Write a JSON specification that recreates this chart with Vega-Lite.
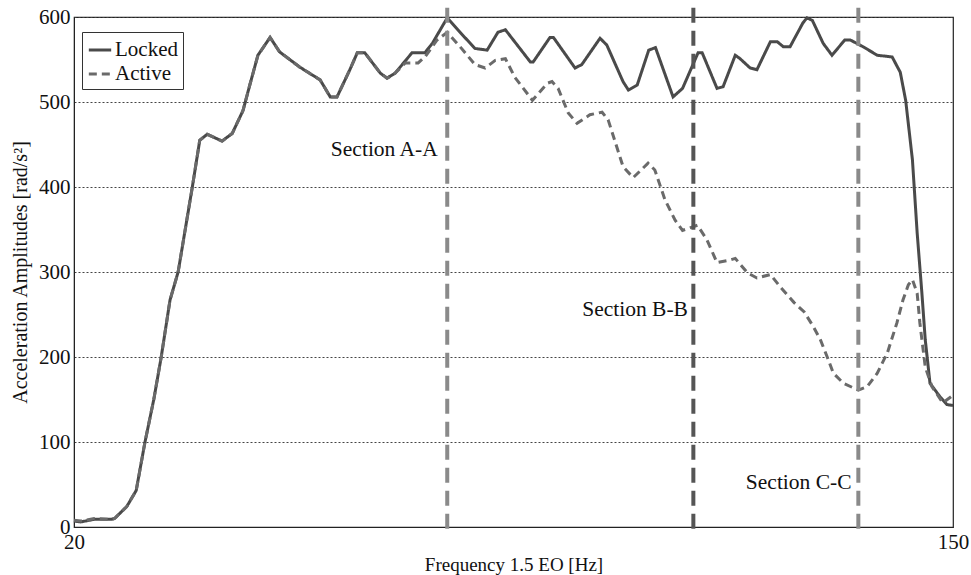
{
  "$schema": "https://vega.github.io/schema/vega-lite/v6.json",
  "width": 879,
  "height": 510,
  "autosize": "none",
  "padding": {"left": 74, "top": 17, "right": 18, "bottom": 48},
  "background": "white",
  "config": {
    "view": {"stroke": "#222", "strokeWidth": 1.2},
    "font": "Liberation Serif",
    "axis": {"labelFont": "Liberation Serif", "titleFont": "Liberation Serif", "labelColor": "#111", "titleColor": "#111", "titleFontWeight": "normal", "domainColor": "#222"},
    "legend": {"orient": "none", "legendX": 8, "legendY": 15, "title": null, "symbolType": "stroke", "symbolSize": 500, "symbolStrokeWidth": 3, "labelFont": "Liberation Serif", "labelFontSize": 21, "labelColor": "#111", "strokeColor": "#333", "fillColor": "white", "padding": 5, "rowPadding": 1, "labelOffset": 2}
  },
  "datasets": {
    "curves": [
      {"f":20,"v":7,"s":"Locked"},{"f":21,"v":6,"s":"Locked"},{"f":23,"v":9,"s":"Locked"},{"f":25.5,"v":9,"s":"Locked"},{"f":26,"v":10,"s":"Locked"},{"f":27.8,"v":24,"s":"Locked"},{"f":29.2,"v":43,"s":"Locked"},{"f":30.5,"v":100,"s":"Locked"},{"f":31.8,"v":150,"s":"Locked"},{"f":32.9,"v":200,"s":"Locked"},{"f":34.2,"v":267,"s":"Locked"},{"f":35.4,"v":300,"s":"Locked"},{"f":37.5,"v":400,"s":"Locked"},{"f":38.6,"v":455,"s":"Locked"},{"f":39.7,"v":462,"s":"Locked"},{"f":41.9,"v":454,"s":"Locked"},{"f":43.4,"v":463,"s":"Locked"},{"f":45,"v":490,"s":"Locked"},{"f":46,"v":520,"s":"Locked"},{"f":47.2,"v":555,"s":"Locked"},{"f":49,"v":576,"s":"Locked"},{"f":50.4,"v":559,"s":"Locked"},{"f":53.4,"v":541,"s":"Locked"},{"f":56.4,"v":526,"s":"Locked"},{"f":57.9,"v":506,"s":"Locked"},{"f":58.9,"v":506,"s":"Locked"},{"f":60.8,"v":538,"s":"Locked"},{"f":61.9,"v":558,"s":"Locked"},{"f":63,"v":558,"s":"Locked"},{"f":65.3,"v":534,"s":"Locked"},{"f":66.3,"v":528,"s":"Locked"},{"f":67.5,"v":534,"s":"Locked"},{"f":70,"v":558,"s":"Locked"},{"f":71.9,"v":558,"s":"Locked"},{"f":73,"v":569,"s":"Locked"},{"f":75.2,"v":599,"s":"Locked"},{"f":77.1,"v":582,"s":"Locked"},{"f":79.3,"v":563,"s":"Locked"},{"f":81.1,"v":561,"s":"Locked"},{"f":82.7,"v":582,"s":"Locked"},{"f":83.8,"v":585,"s":"Locked"},{"f":87.5,"v":547,"s":"Locked"},{"f":87.9,"v":547,"s":"Locked"},{"f":90.4,"v":576,"s":"Locked"},{"f":90.9,"v":576,"s":"Locked"},{"f":94.1,"v":540,"s":"Locked"},{"f":95.1,"v":544,"s":"Locked"},{"f":97.8,"v":575,"s":"Locked"},{"f":98.8,"v":567,"s":"Locked"},{"f":101.2,"v":524,"s":"Locked"},{"f":102,"v":514,"s":"Locked"},{"f":103.3,"v":520,"s":"Locked"},{"f":105,"v":561,"s":"Locked"},{"f":106,"v":564,"s":"Locked"},{"f":108.6,"v":506,"s":"Locked"},{"f":110,"v":516,"s":"Locked"},{"f":112.3,"v":558,"s":"Locked"},{"f":112.9,"v":558,"s":"Locked"},{"f":115.1,"v":516,"s":"Locked"},{"f":116,"v":518,"s":"Locked"},{"f":117.8,"v":555,"s":"Locked"},{"f":118.5,"v":551,"s":"Locked"},{"f":120,"v":540,"s":"Locked"},{"f":121,"v":538,"s":"Locked"},{"f":123,"v":571,"s":"Locked"},{"f":124,"v":571,"s":"Locked"},{"f":124.9,"v":565,"s":"Locked"},{"f":125.9,"v":565,"s":"Locked"},{"f":127.8,"v":593,"s":"Locked"},{"f":128.4,"v":599,"s":"Locked"},{"f":129.2,"v":596,"s":"Locked"},{"f":130.8,"v":569,"s":"Locked"},{"f":132.1,"v":555,"s":"Locked"},{"f":134,"v":573,"s":"Locked"},{"f":134.8,"v":573,"s":"Locked"},{"f":136.7,"v":565,"s":"Locked"},{"f":138.8,"v":555,"s":"Locked"},{"f":141,"v":553,"s":"Locked"},{"f":142.2,"v":535,"s":"Locked"},{"f":143,"v":502,"s":"Locked"},{"f":144,"v":432,"s":"Locked"},{"f":144.7,"v":346,"s":"Locked"},{"f":145.4,"v":275,"s":"Locked"},{"f":145.9,"v":220,"s":"Locked"},{"f":146.6,"v":169,"s":"Locked"},{"f":148.1,"v":153,"s":"Locked"},{"f":149.1,"v":144,"s":"Locked"},{"f":150,"v":143,"s":"Locked"},
      {"f":20,"v":8,"s":"Active"},{"f":21,"v":7,"s":"Active"},{"f":23,"v":10,"s":"Active"},{"f":25.5,"v":9,"s":"Active"},{"f":26,"v":10,"s":"Active"},{"f":27.8,"v":24,"s":"Active"},{"f":29.2,"v":43,"s":"Active"},{"f":30.5,"v":100,"s":"Active"},{"f":31.8,"v":150,"s":"Active"},{"f":32.9,"v":200,"s":"Active"},{"f":34.2,"v":267,"s":"Active"},{"f":35.4,"v":300,"s":"Active"},{"f":37.5,"v":400,"s":"Active"},{"f":38.6,"v":455,"s":"Active"},{"f":39.7,"v":462,"s":"Active"},{"f":41.9,"v":454,"s":"Active"},{"f":43.4,"v":463,"s":"Active"},{"f":45,"v":490,"s":"Active"},{"f":46,"v":520,"s":"Active"},{"f":47.2,"v":555,"s":"Active"},{"f":49,"v":576,"s":"Active"},{"f":50.4,"v":559,"s":"Active"},{"f":53.4,"v":541,"s":"Active"},{"f":56.4,"v":526,"s":"Active"},{"f":57.9,"v":506,"s":"Active"},{"f":58.9,"v":506,"s":"Active"},{"f":60.8,"v":538,"s":"Active"},{"f":61.9,"v":558,"s":"Active"},{"f":63,"v":558,"s":"Active"},{"f":65.3,"v":534,"s":"Active"},{"f":66.3,"v":528,"s":"Active"},{"f":67.5,"v":534,"s":"Active"},{"f":69,"v":546,"s":"Active"},{"f":70.9,"v":546,"s":"Active"},{"f":71.9,"v":553,"s":"Active"},{"f":73.7,"v":573,"s":"Active"},{"f":75.2,"v":582,"s":"Active"},{"f":77.1,"v":565,"s":"Active"},{"f":79.3,"v":544,"s":"Active"},{"f":80.8,"v":540,"s":"Active"},{"f":82.3,"v":549,"s":"Active"},{"f":83.8,"v":551,"s":"Active"},{"f":85.2,"v":529,"s":"Active"},{"f":87.8,"v":502,"s":"Active"},{"f":90,"v":522,"s":"Active"},{"f":90.7,"v":524,"s":"Active"},{"f":91.6,"v":516,"s":"Active"},{"f":93.1,"v":487,"s":"Active"},{"f":94.4,"v":475,"s":"Active"},{"f":96.3,"v":485,"s":"Active"},{"f":98.1,"v":488,"s":"Active"},{"f":99,"v":479,"s":"Active"},{"f":101.2,"v":424,"s":"Active"},{"f":102.7,"v":411,"s":"Active"},{"f":104.9,"v":428,"s":"Active"},{"f":105.9,"v":420,"s":"Active"},{"f":107.4,"v":385,"s":"Active"},{"f":108.9,"v":361,"s":"Active"},{"f":110,"v":349,"s":"Active"},{"f":112.2,"v":355,"s":"Active"},{"f":113.6,"v":338,"s":"Active"},{"f":115.1,"v":311,"s":"Active"},{"f":117,"v":314,"s":"Active"},{"f":117.8,"v":316,"s":"Active"},{"f":119.6,"v":299,"s":"Active"},{"f":121,"v":293,"s":"Active"},{"f":123,"v":297,"s":"Active"},{"f":124.5,"v":282,"s":"Active"},{"f":126.5,"v":264,"s":"Active"},{"f":128,"v":253,"s":"Active"},{"f":129.4,"v":235,"s":"Active"},{"f":130.4,"v":220,"s":"Active"},{"f":131.4,"v":200,"s":"Active"},{"f":132.3,"v":181,"s":"Active"},{"f":133.8,"v":169,"s":"Active"},{"f":136,"v":161,"s":"Active"},{"f":137.3,"v":165,"s":"Active"},{"f":138.8,"v":181,"s":"Active"},{"f":140.3,"v":205,"s":"Active"},{"f":141.7,"v":240,"s":"Active"},{"f":142.6,"v":267,"s":"Active"},{"f":143.4,"v":285,"s":"Active"},{"f":144,"v":291,"s":"Active"},{"f":144.7,"v":275,"s":"Active"},{"f":145.1,"v":240,"s":"Active"},{"f":145.9,"v":188,"s":"Active"},{"f":146.9,"v":165,"s":"Active"},{"f":148.5,"v":146,"s":"Active"},{"f":150,"v":155,"s":"Active"}
    ],
    "sections": [
      {"f":75.2,"label":"Section A-A","tf":73.8,"tv":443,"c":"A"},
      {"f":111.6,"label":"Section B-B","tf":110.8,"tv":255,"c":"B"},
      {"f":136,"label":"Section C-C","tf":135,"tv":52,"c":"C"}
    ]
  },
  "layer": [
    {
      "data": {"name": "curves"},
      "mark": {"type": "line", "strokeWidth": 3},
      "encoding": {
        "x": {"field": "f", "type": "quantitative", "scale": {"domain": [20, 150], "nice": false, "zero": false},
              "axis": {"values": [20, 150], "title": "Frequency 1.5 EO [Hz]", "labelFontSize": 21, "titleFontSize": 19, "ticks": false, "grid": false, "labelPadding": 4, "titlePadding": 3, "labelFlush": false}},
        "y": {"field": "v", "type": "quantitative", "scale": {"domain": [0, 600], "nice": false},
              "axis": {"values": [0,100,200,300,400,500,600], "title": "Acceleration Amplitudes [rad/s²]", "labelFontSize": 21, "titleFontSize": 20, "ticks": false, "labelPadding": 4, "titlePadding": 8, "grid": true, "gridColor": "#444", "gridDash": [2, 2], "gridWidth": 1}},
        "color": {"field": "s", "type": "nominal", "scale": {"domain": ["Locked", "Active"], "range": ["#4a4a4a", "#6a6a6a"]}},
        "strokeDash": {"field": "s", "type": "nominal", "scale": {"domain": ["Locked", "Active"], "range": [[1, 0], [8, 5]]}},
        "order": {"field": "f", "type": "quantitative"}
      }
    },
    {
      "data": {"name": "sections"},
      "transform": [{"filter": "datum.c !== 'B'"}],
      "mark": {"type": "rule", "strokeWidth": 4, "strokeDash": [15, 8], "color": "#8a8a8a"},
      "encoding": {
        "x": {"field": "f", "type": "quantitative"},
        "y": {"datum": 611},
        "y2": {"datum": -10}
      }
    },
    {
      "data": {"name": "sections"},
      "transform": [{"filter": "datum.c === 'B'"}],
      "mark": {"type": "rule", "strokeWidth": 4, "strokeDash": [15, 8], "color": "#555555"},
      "encoding": {
        "x": {"field": "f", "type": "quantitative"},
        "y": {"datum": 611},
        "y2": {"datum": -10}
      }
    },
    {
      "data": {"name": "sections"},
      "mark": {"type": "text", "align": "right", "baseline": "middle", "font": "Liberation Serif", "fontSize": 21.5, "color": "#111"},
      "encoding": {
        "x": {"field": "tf", "type": "quantitative"},
        "y": {"field": "tv", "type": "quantitative"},
        "text": {"field": "label"}
      }
    }
  ]
}
